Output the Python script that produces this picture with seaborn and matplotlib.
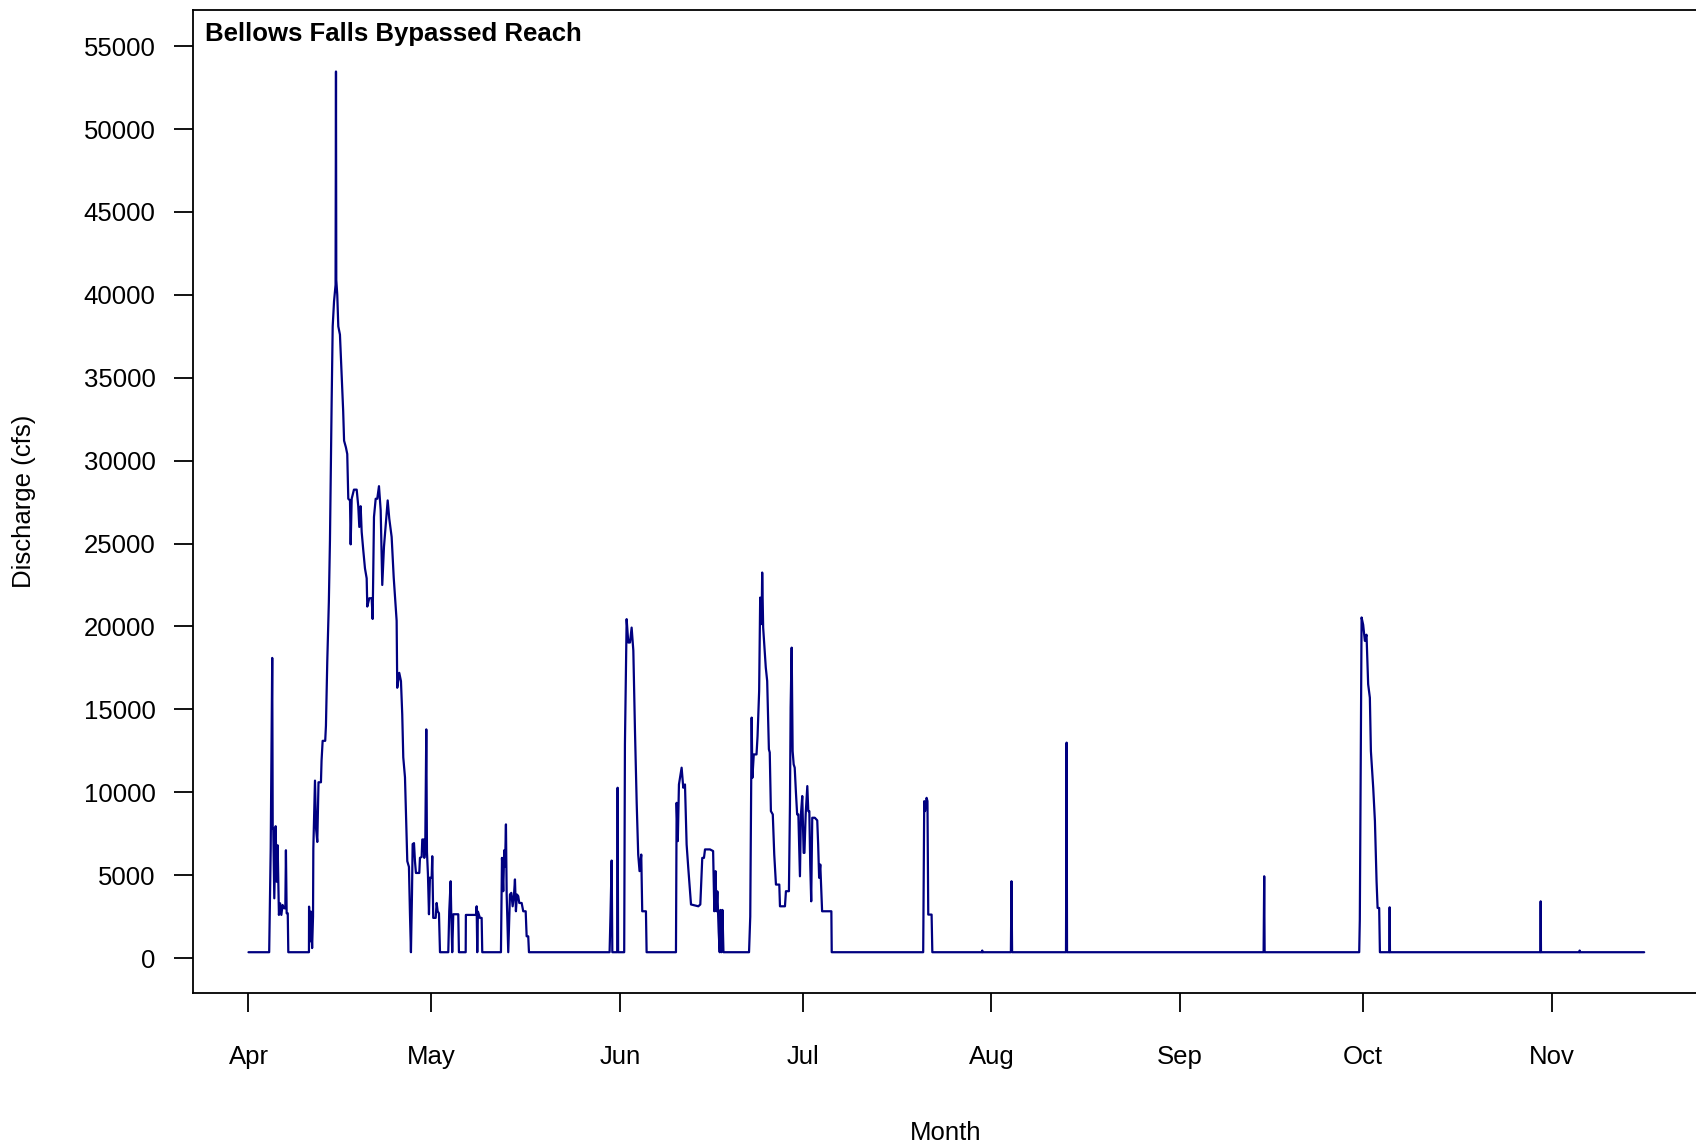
"""
Bellows Falls bypassed reach discharge, Apr-Nov
"""
import pandas as pd
import matplotlib
matplotlib.use("Agg")
import matplotlib.pyplot as plt
import matplotlib.dates as mdates
import seaborn as sns

# days after Apr 1
day_offset = [
    0, 3.4, 3.65, 3.9, 3.98, 4.07, 4.24, 4.46, 4.63, 4.79, 5.0, 5.2, 5.4, 5.6, 5.85, 6.05, 6.15, 6.27, 6.45, 6.54,
    9.93, 9.95, 10.1, 10.25, 10.45, 10.6, 10.65, 10.92, 11.1, 11.3, 11.5, 11.9, 12.0, 12.18, 12.6, 12.72, 12.94, 13.05, 13.2,
    13.38, 13.66, 13.83, 14.05, 14.3, 14.37, 14.42, 14.58, 14.75, 15.02, 15.35, 15.55, 15.7, 16.0, 16.22, 16.39,
    16.67, 16.78, 16.95, 17.32, 17.77, 18.03, 18.2, 18.42, 18.59, 18.85, 19.13, 19.41, 19.51, 19.84, 20.23, 20.39,
    20.61, 20.89, 21.15, 21.43, 21.71, 21.97, 22.25, 22.69, 22.86, 23.12, 23.51, 23.85, 24.33, 24.43, 24.76, 25.04,
    25.25, 25.42, 25.7, 26.08, 26.35, 26.52, 26.68, 26.85, 26.96, 27.18, 27.34, 27.5, 28.05, 28.16, 28.44, 28.54,
    28.77, 28.87, 29.03, 29.2, 29.31, 29.47, 29.64, 29.8, 30.08, 30.18, 30.34, 30.74, 30.9, 31.07, 31.28, 31.45,
    32.81, 32.97, 33.2, 33.3, 33.46, 33.63, 34.45, 34.56, 35.67, 35.7, 37.36, 37.47, 37.57, 37.68, 38.01, 38.29, 38.39,
    41.46, 41.63, 41.84, 42.0, 42.13, 42.28, 42.4, 42.66, 42.94, 43.16, 43.38, 43.6, 43.76, 43.92, 44.09, 44.3,
    44.47, 44.86, 45.12, 45.52, 45.68, 45.94, 46.06,
    59.3, 59.45, 59.64, 59.75, 60.55, 60.62, 60.7, 61.7, 61.82, 62.1, 62.37, 62.65, 62.92, 63.2, 63.47, 63.75,
    64.0, 64.22, 64.5, 64.66, 65.27, 65.38,
    70.2, 70.31, 70.5, 70.69, 71.13, 71.4, 71.68, 71.95, 72.22, 72.67, 73.87, 74.2, 74.52, 74.8, 74.97, 75.79,
    76.3, 76.5, 76.7, 76.85, 77.0, 77.22, 77.38, 77.5, 77.65, 77.83, 78.0,
    82.2, 82.4, 82.63, 82.75, 82.98, 83.43, 83.6, 83.86, 84.03, 84.26, 84.36, 84.52, 84.8, 84.95, 85.18, 85.46,
    85.6, 85.79, 86.1, 86.34, 86.62, 87.17, 87.28, 88.1, 88.26, 88.75, 88.92, 89.03, 89.2, 89.36, 89.53, 89.7,
    89.9, 90.1, 90.3, 90.56, 90.72, 90.94, 91.17, 91.3, 91.5, 91.77, 91.93, 92.1, 92.25, 92.41, 92.58, 93.0,
    93.4, 93.55, 93.71, 93.9, 94.2, 95.72, 95.78,
    110.8, 110.97, 111.1, 111.36, 111.5, 111.63, 112.18, 112.3,
    120.45, 120.5, 120.55,
    125.2, 125.3, 125.4,
    134.25, 134.3, 134.35, 134.42,
    166.7, 166.75, 166.8, 166.87,
    182.4, 182.5, 182.79, 183.05, 183.33, 183.6, 183.87, 184.15, 184.32, 184.7, 184.98, 185.25, 185.42, 185.68, 185.8,
    187.35, 187.4, 187.45,
    212.15, 212.2, 212.25,
    218.55, 218.6, 218.65,
    229.2,
]

# discharge (cfs) at each of the points above
discharge_cfs = [
    350, 350, 6600, 18100, 7800, 7800, 3600, 7950, 4600, 6800, 2600, 3300, 2600, 3200, 3000, 3000, 6500, 2700, 2700, 350,
    350, 3100, 1000, 2800, 600, 2500, 6600, 10700, 7800, 7000, 10600, 10600, 11900, 13100, 13100, 14000, 17900, 19500, 21500,
    25170, 33600, 38100, 39600, 40600, 53470, 40900, 40000, 38100, 37600, 34800, 33000, 31200, 30800, 30400, 27700,
    27600, 24950, 27700, 28250, 28250, 27250, 26000, 27250, 25700, 24600, 23500, 22900, 21200, 21700, 21700, 20450,
    26600, 27700, 27700, 28460, 27000, 22500, 24800, 26800, 27600, 26500, 25400, 22950, 20340, 16300, 17200, 16700,
    14700, 12100, 10900, 5840, 5500, 2640, 350, 3850, 6870, 6930, 5840, 5130, 5130, 6040, 6100, 7150,
    7150, 6040, 6700, 13790, 6400, 5050, 2640, 4850, 4850, 6140, 2420, 2420, 3320, 2820, 2700, 350,
    350, 2820, 4630, 2640, 350, 2640, 2640, 350, 350, 2600, 2600, 3120, 350, 2800, 2420, 2420, 350,
    350, 6040, 4030, 6500, 5500, 8060, 3830, 350, 3830, 3930, 3120, 3800, 4740, 2820, 3830, 3730,
    3320, 3320, 2820, 2820, 1310, 1310, 350,
    350, 2600, 5880, 350, 350, 10270, 350, 350, 12890, 20440, 19030, 19030, 19930, 18540, 13690, 9360,
    6240, 5240, 6240, 2820, 2820, 350,
    350, 9360, 7050, 10470, 11480, 10270, 10470, 6850, 5440, 3230, 3120, 3230, 6040, 6040, 6550, 6550,
    6450, 2820, 5240, 2820, 4020, 1560, 350, 2900, 350, 2900, 350,
    350, 2500, 14500, 10870, 12280, 12280, 13390, 16110, 21740, 20140, 23250, 19930, 18330, 17520, 16710, 12590,
    12400, 8860, 8660, 6240, 4430, 4430, 3120, 3120, 4030, 4030, 9260, 15100, 18720, 12480, 11680, 11480,
    9990, 8660, 8660, 4930, 8660, 9770, 6340, 6340, 8660, 10370, 8860, 8860, 5640, 3420, 8460, 8460,
    8300, 6850, 4840, 5640, 2820, 2820, 350,
    350, 9460, 8860, 9660, 9460, 2620, 2620, 350,
    350, 450, 350,
    350, 4630, 350,
    350, 6950, 12990, 350,
    350, 3050, 4930, 350,
    350, 2320, 20540, 20100, 19130, 19500, 16510, 15700, 12480, 10270, 8260, 4630, 3020, 3020, 350,
    350, 3060, 350,
    350, 3420, 350,
    350, 450, 350,
    350,
]

month_labels = ["Apr", "May", "Jun", "Jul", "Aug", "Sep", "Oct", "Nov"]
y_ticks = list(range(0, 55001, 5000))

start = pd.Timestamp("2017-04-01")
df = pd.DataFrame({
    "date": start + pd.to_timedelta(day_offset, unit="D"),
    "discharge": discharge_cfs,
})

sns.set_style("ticks")
plt.rcParams["font.family"] = ["Liberation Sans", "DejaVu Sans"]
plt.rcParams["text.color"] = "black"
plt.rcParams["axes.labelcolor"] = "black"
plt.rcParams["xtick.color"] = "black"
plt.rcParams["ytick.color"] = "black"

fig = plt.figure(figsize=(16.96, 11.46), dpi=100)
ax = fig.add_axes([193 / 1696, 1 - 993 / 1146, 1506 / 1696, 983 / 1146])

sns.lineplot(data=df, x="date", y="discharge", ax=ax, color="navy",
             linewidth=1.6, estimator=None, sort=False)

# axis ranges (R style 4% padding)
ax.set_xlim(start - pd.Timedelta(days=9.11), start + pd.Timedelta(days=238.2))
ax.set_ylim(-2110, 57180)

month_starts = pd.date_range(start, periods=len(month_labels), freq="MS")
ax.set_xticks(month_starts)
ax.set_xticklabels(month_labels)
ax.set_yticks(y_ticks)
ax.set_yticklabels([str(v) for v in y_ticks])

ax.tick_params(axis="both", labelsize=18.5, length=14, width=1.3,
               color="black", labelcolor="black")
ax.tick_params(axis="y", pad=13)
ax.tick_params(axis="x", pad=23.5)
for sp in ax.spines.values():
    sp.set_visible(True)
    sp.set_linewidth(1.3)
    sp.set_color("black")

ax.set_ylabel("Discharge (cfs)", fontsize=18.5, va="center")
ax.yaxis.set_label_coords(-0.1122, 0.5)
ax.set_xlabel("Month", fontsize=18.5, va="center")
ax.xaxis.set_label_coords(0.5, -0.1425)

ax.text(0.008, 0.9688, "Bellows Falls Bypassed Reach", transform=ax.transAxes,
        fontsize=18.5, fontweight="bold", ha="left", va="baseline")

fig.savefig("out.png", dpi=100)
plt.close(fig)
